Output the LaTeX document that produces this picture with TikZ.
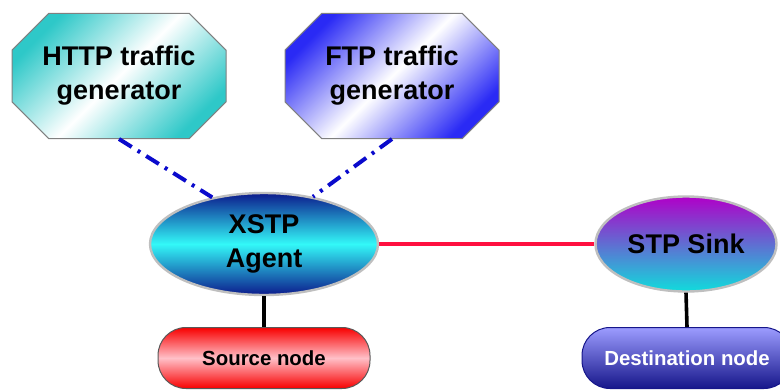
\documentclass[tikz,border=0pt]{standalone}
\usepackage{fontspec}
\setmainfont{Liberation Sans}
\usetikzlibrary{shapes.geometric,shapes.misc}

\definecolor{httpteal}{HTML}{2EC8C8}
\definecolor{ftpblue}{HTML}{2A2AF5}
\definecolor{agentdark}{HTML}{0C1A8C}
\definecolor{agentcyan}{HTML}{33F8F8}
\definecolor{sinktop}{HTML}{B000C8}
\definecolor{sinkbot}{HTML}{10DCDC}
\definecolor{srcred}{HTML}{F80000}
\definecolor{srcpink}{HTML}{FFC0C8}
\definecolor{dsttop}{HTML}{9C9CFF}
\definecolor{dstbot}{HTML}{16168A}
\definecolor{linkblue}{HTML}{0A0ACC}
\definecolor{linkred}{HTML}{FF1040}

\newcommand{\bigfont}{\bfseries\fontsize{13.5}{17}\selectfont}
\newcommand{\smallfont}{\bfseries\fontsize{10.2}{12}\selectfont}

\begin{document}
\begin{tikzpicture}[x=0.5pt, y=-0.5pt,
  gen/.style={chamfered rectangle, chamfered rectangle xsep=21pt,
    minimum width=107pt, minimum height=62.5pt, inner sep=0pt,
    draw=gray, line width=0.5pt, align=center, font=\bigfont},
  blob/.style={ellipse, draw=gray!50, line width=1.2pt, align=center,
    inner sep=0pt, font=\bigfont},
  pill/.style={rectangle, rounded corners=14pt, minimum width=106pt,
    minimum height=30.5pt, inner sep=0pt, font=\smallfont},
  ctrl/.style={linkblue, line width=2pt,
    dash pattern=on 7.5pt off 3.5pt on 1.5pt off 3.5pt},
  wire/.style={line width=1.8pt}]

\useasboundingbox (0,0) rectangle (780,390);

%--- generators ---
\node[gen, top color=httpteal, bottom color=httpteal, middle color=white,
  shading angle=45] (http) at (119,76) {HTTP traffic\\generator};
\node[gen, top color=ftpblue, bottom color=ftpblue, middle color=white,
  shading angle=45] (ftp) at (392,76) {FTP traffic\\generator};

%--- agent and sink ---
\node[blob, minimum width=114pt, minimum height=51pt,
  top color=agentdark, bottom color=agentdark, middle color=agentcyan]
  (agent) at (264,244) {XSTP\\Agent};
\node[blob, minimum width=90.5pt, minimum height=47.5pt,
  top color=sinktop, bottom color=sinkbot] (sink) at (686,244) {STP Sink};

%--- end nodes ---
\node[pill, draw=gray!70!black, line width=0.5pt,
  top color=srcred, bottom color=srcred, middle color=srcpink]
  (src) at (264,358) {Source node};
\node[pill, minimum width=105pt, draw=dstbot, line width=0.5pt,
  top color=dsttop, bottom color=dstbot, text=white]
  (dst) at (687,358) {Destination node};

%--- links ---
\draw[ctrl] (http.south) -- (agent.138);
\draw[ctrl] (ftp.south) -- (agent.44);
\draw[wire, linkred] (agent.east) -- (sink.west);
\draw[wire] (agent.south) -- (src.north);
\draw[wire] (sink.south) -- (dst.north);

\end{tikzpicture}
\end{document}
